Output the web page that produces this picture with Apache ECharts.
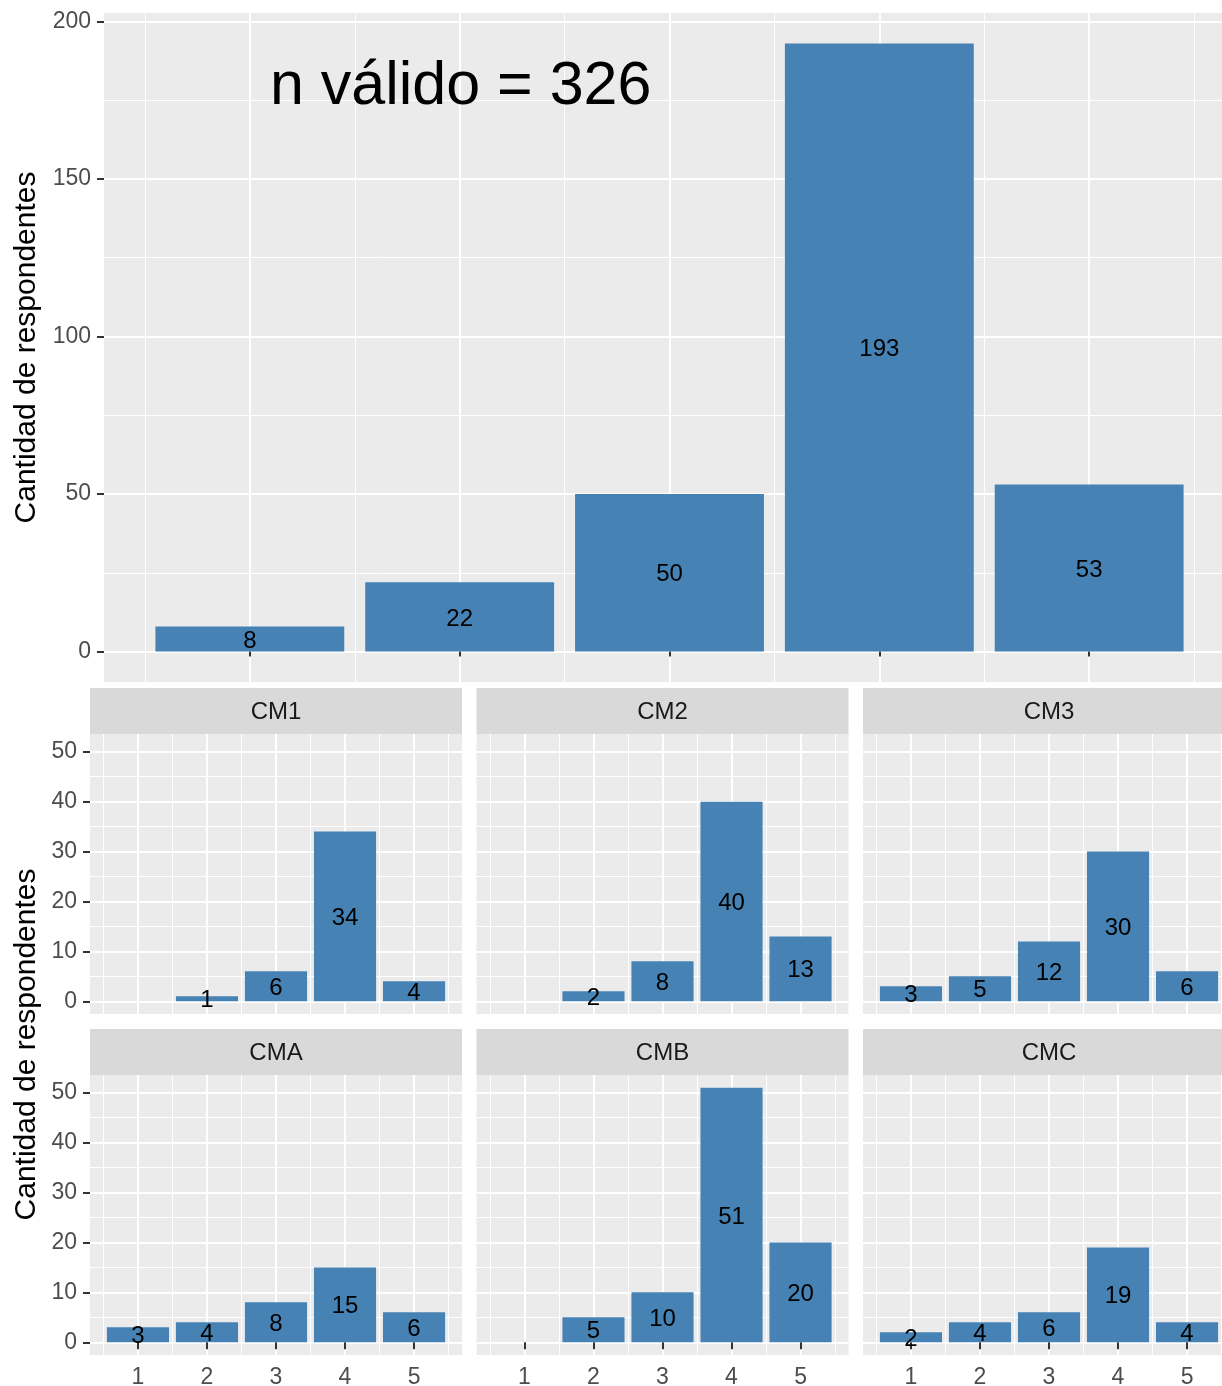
<!DOCTYPE html>
<html>
<head>
<meta charset="utf-8">
<title>Cantidad de respondentes</title>
<script src="https://cdn.jsdelivr.net/npm/echarts@6/dist/echarts.min.js"></script>
<style>
  html, body { margin: 0; padding: 0; background: #ffffff; overflow: hidden; }
  #chart { width: 1222px; height: 1386px; }
</style>
</head>
<body>
<div id="chart"></div>
<script>
// ---- data ----
const categories = [1, 2, 3, 4, 5];
const totalCounts = [8, 22, 50, 193, 53];

const panelNames = ['CM1', 'CM2', 'CM3', 'CMA', 'CMB', 'CMC'];
const countsCM1 = [null, 1, 6, 34, 4];
const countsCM2 = [null, 2, 8, 40, 13];
const countsCM3 = [3, 5, 12, 30, 6];
const countsCMA = [3, 4, 8, 15, 6];
const countsCMB = [null, 5, 10, 51, 20];
const countsCMC = [2, 4, 6, 19, 4];
const panelCounts = [countsCM1, countsCM2, countsCM3, countsCMA, countsCMB, countsCMC];

const topYTicks = [0, 50, 100, 150, 200];
const topYMinor = [25, 75, 125, 175];
const facetYTicks = [0, 10, 20, 30, 40, 50];
const facetYMinor = [5, 15, 25, 35, 45];
const xMinor = [0.5, 1.5, 2.5, 3.5, 4.5, 5.5];

const annotationText = 'n válido = 326';
const annotationPos = [2, 180];
const yTitle = 'Cantidad de respondentes';

// ---- look & layout ----
const FONT = '"Liberation Sans", Arial, Helvetica, sans-serif';
const BAR = '#4682B4';
const PANEL_BG = '#EBEBEB';
const STRIP_BG = '#D9D9D9';
const AXIS_TEXT = '#4D4D4D';
const TICK = '#333333';
const PAGE_W = 1222;

const X_RANGE = [0.305, 5.695];
const TOP_Y_RANGE = [-9.65, 202.65];
const FACET_Y_RANGE = [-2.55, 53.55];

const topGrid = { left: 104, top: 13, width: 1131, height: 669 };
const colLefts = [90, 476.5, 863];
const rowTops = [734, 1075];
const facetW = 372, facetH = 280;
const stripH = 46;

const grids = [];
const xAxes = [];
const yAxes = [];
const series = [];
const graphics = [];

function addPanel(g, values, yRange, yMajor, yMinor, opts) {
  const gi = grids.length;
  // panels running past the right page edge are cut there, keeping the same x scale
  const pxPerUnit = g.width / (X_RANGE[1] - X_RANGE[0]);
  const visibleW = Math.min(g.width, PAGE_W - g.left);
  const xMax = X_RANGE[0] + visibleW / pxPerUnit;
  grids.push({
    left: g.left, top: g.top, width: visibleW, height: g.height,
    show: true, backgroundColor: PANEL_BG, borderWidth: 0,
    containLabel: false, outerBoundsMode: 'none'
  });
  // major x axis: ticks, labels, major grid lines
  xAxes.push({
    gridIndex: gi, type: 'value', position: 'bottom',
    min: X_RANGE[0], max: xMax,
    axisLine: { show: false },
    axisTick: {
      show: opts.xTicks, customValues: categories, length: opts.xTickLen || 7,
      lineStyle: { color: TICK, width: 2 }
    },
    axisLabel: {
      show: opts.xLabels, customValues: categories, margin: 11,
      color: AXIS_TEXT, fontSize: 23, fontFamily: FONT
    },
    splitLine: { show: true, lineStyle: { color: '#ffffff', width: 2 } }
  });
  // minor x grid lines
  xAxes.push({
    gridIndex: gi, type: 'value', position: 'top',
    min: X_RANGE[0], max: xMax,
    axisLine: { show: false },
    axisTick: { show: false, customValues: xMinor },
    axisLabel: { show: false, customValues: xMinor },
    splitLine: { show: true, lineStyle: { color: '#ffffff', width: 1 } }
  });
  yAxes.push({
    gridIndex: gi, type: 'value', position: 'left',
    min: yRange[0], max: yRange[1],
    axisLine: { show: false },
    axisTick: {
      show: opts.yTicks, customValues: yMajor, length: 7,
      lineStyle: { color: TICK, width: 2 }
    },
    axisLabel: {
      show: opts.yTicks, customValues: yMajor, margin: 13,
      color: AXIS_TEXT, fontSize: 23, fontFamily: FONT
    },
    splitLine: { show: true, lineStyle: { color: '#ffffff', width: 2 } }
  });
  yAxes.push({
    gridIndex: gi, type: 'value', position: 'right',
    min: yRange[0], max: yRange[1],
    axisLine: { show: false },
    axisTick: { show: false, customValues: yMinor },
    axisLabel: { show: false, customValues: yMinor },
    splitLine: { show: true, lineStyle: { color: '#ffffff', width: 1 } }
  });

  const data = [];
  categories.forEach((c, k) => {
    if (values[k] != null) data.push([c, values[k]]);
  });
  series.push({
    type: 'bar',
    xAxisIndex: 2 * gi, yAxisIndex: 2 * gi,
    data: data,
    barWidth: 0.9 * pxPerUnit,
    itemStyle: { color: BAR },
    z: 3,
    silent: true,
    label: {
      show: true, position: 'inside', offset: [0, 2],
      color: '#000000', fontSize: 24, fontFamily: FONT,
      textBorderWidth: 0,
      formatter: p => String(p.value[1])
    }
  });
  return gi;
}

// overall panel
const topIndex = addPanel(topGrid, totalCounts, TOP_Y_RANGE, topYTicks, topYMinor,
  { xTicks: true, xTickLen: 5, xLabels: false, yTicks: true });

series.push({
  type: 'scatter',
  xAxisIndex: 2 * topIndex, yAxisIndex: 2 * topIndex,
  data: [annotationPos],
  symbolSize: 0,
  silent: true,
  z: 4,
  itemStyle: { opacity: 1 },
  label: {
    show: true, position: 'inside', offset: [1, 3],
    formatter: annotationText,
    color: '#000000', opacity: 1, fontSize: 61, fontFamily: FONT,
    textBorderWidth: 0
  }
});

// faceted panels
panelNames.forEach((name, i) => {
  const row = Math.floor(i / 3), col = i % 3;
  const g = { left: colLefts[col], top: rowTops[row], width: facetW, height: facetH };
  addPanel(g, panelCounts[i], FACET_Y_RANGE, facetYTicks, facetYMinor, {
    xTicks: row === 1, xLabels: row === 1, yTicks: col === 0
  });
  graphics.push({
    type: 'rect',
    shape: { x: g.left, y: g.top - stripH, width: facetW, height: stripH },
    style: { fill: STRIP_BG },
    z: 10
  });
  graphics.push({
    type: 'text',
    x: g.left + facetW / 2, y: g.top - stripH / 2 + 1,
    style: {
      text: name, fill: '#1A1A1A', font: '24px ' + FONT,
      align: 'center', verticalAlign: 'middle'
    },
    z: 11
  });
});

// y-axis titles
graphics.push({
  type: 'text', x: 27, y: topGrid.top + topGrid.height / 2, rotation: Math.PI / 2,
  style: { text: yTitle, fill: '#000000', font: '30px ' + FONT, align: 'center', verticalAlign: 'middle' },
  z: 11
});
graphics.push({
  type: 'text', x: 27, y: (rowTops[0] + rowTops[1] + facetH) / 2, rotation: Math.PI / 2,
  style: { text: yTitle, fill: '#000000', font: '30px ' + FONT, align: 'center', verticalAlign: 'middle' },
  z: 11
});

const chart = echarts.init(document.getElementById('chart'), null, { renderer: 'canvas' });
chart.setOption({
  animation: false,
  backgroundColor: '#ffffff',
  grid: grids,
  xAxis: xAxes,
  yAxis: yAxes,
  series: series,
  graphic: graphics
});
</script>
</body>
</html>
